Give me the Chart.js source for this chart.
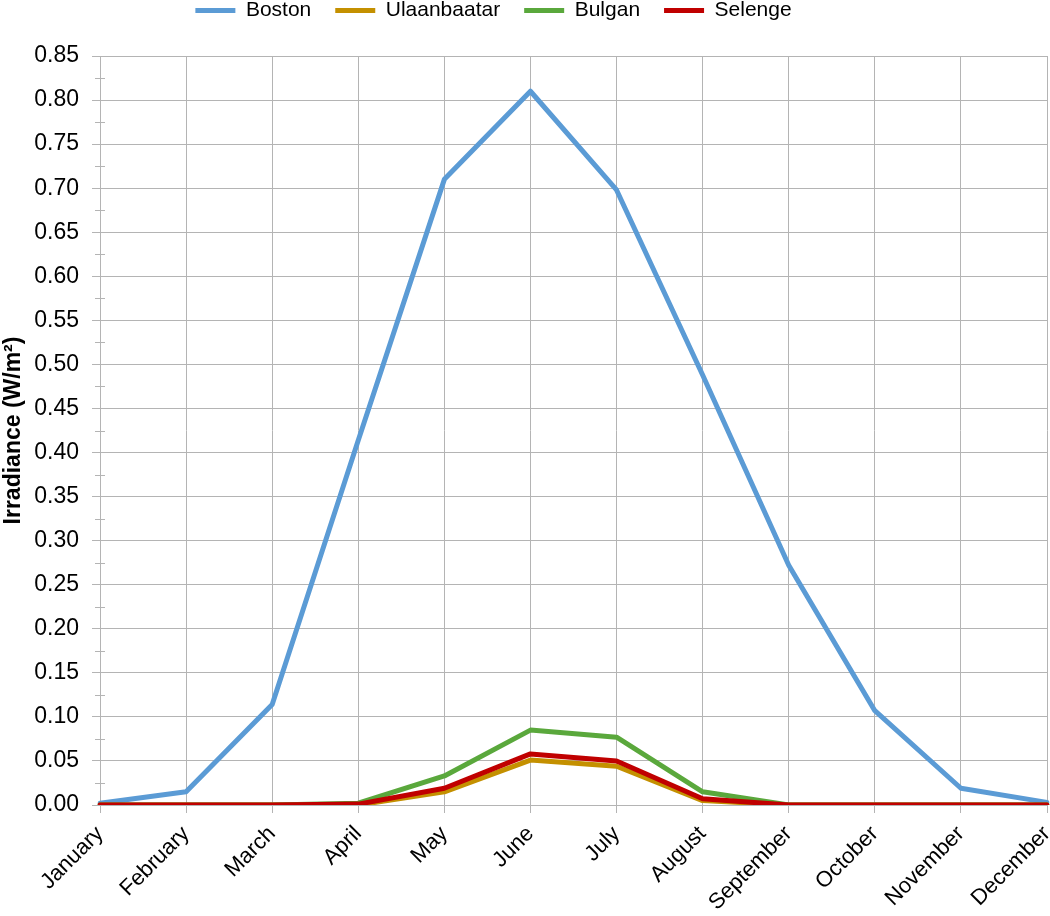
<!DOCTYPE html>
<html>
<head>
<meta charset="utf-8">
<script src="https://cdn.jsdelivr.net/npm/chart.js@4"></script>
<style>
html,body{margin:0;padding:0;background:#fff;}
#wrap{width:1050px;height:916px;}
</style>
</head>
<body>
<div id="wrap"><canvas id="c" width="1050" height="916"></canvas></div>
<script>
const months = ["January","February","March","April","May","June","July","August","September","October","November","December"];
const boston      = [0.002, 0.015, 0.114, 0.414, 0.710, 0.810, 0.698, 0.488, 0.272, 0.107, 0.019, 0.003];
const ulaanbaatar = [0.000, 0.000, 0.000, 0.000, 0.015, 0.051, 0.044, 0.005, 0.000, 0.000, 0.000, 0.000];
const bulgan      = [0.000, 0.000, 0.000, 0.002, 0.033, 0.085, 0.077, 0.015, 0.000, 0.000, 0.000, 0.000];
const selenge     = [0.000, 0.000, 0.000, 0.001, 0.019, 0.058, 0.050, 0.007, 0.000, 0.000, 0.000, 0.000];
const seriesNames = ["Boston","Ulaanbaatar","Bulgan","Selenge"];
const yMin = 0, yMax = 0.85, yStep = 0.05, yMinorStep = 0.025;

const FONT = "'Liberation Sans', Arial, sans-serif";
const GRID = "#b4b4b4";

const minorTicks = {
  id: 'minorTicks',
  afterDraw(chart) {
    const y = chart.scales.y;
    const ctx = chart.ctx;
    ctx.save();
    ctx.strokeStyle = GRID;
    ctx.lineWidth = 1;
    for (let v = yMin + yMinorStep; v < yMax; v += yStep) {
      const py = Math.round(y.getPixelForValue(v)) + 0.5;
      ctx.beginPath();
      ctx.moveTo(y.right - 5, py);
      ctx.lineTo(y.right + 5, py);
      ctx.stroke();
    }
    ctx.restore();
  }
};

const legendTweak = {
  id: 'legendTweak',
  beforeUpdate(chart) {
    const lg = chart.legend;
    if (lg && !lg._tweaked) {
      lg._tweaked = true;
      const of = lg.fit.bind(lg);
      lg.fit = function () { of(); this.height = 56; };
      const od = lg.draw.bind(lg);
      lg.draw = function () {
        this.ctx.save();
        this.ctx.translate(-30, -24);
        od();
        this.ctx.restore();
      };
    }
  }
};

function ds(label, data, color, order) {
  return {label, data, borderColor: color, backgroundColor: color, borderWidth: 5,
          pointRadius: 0, pointHoverRadius: 0, tension: 0, order,
          borderCapStyle: 'round', borderJoinStyle: 'round', fill: false};
}

new Chart(document.getElementById('c'), {
  type: 'line',
  data: {
    labels: months,
    datasets: [
      ds(seriesNames[0], boston, '#5b9bd5', 3),
      ds(seriesNames[1], ulaanbaatar, '#c49000', 2),
      ds(seriesNames[2], bulgan, '#5aa83c', 1),
      ds(seriesNames[3], selenge, '#c00000', 0)
    ]
  },
  options: {
    responsive: false,
    animation: false,
    devicePixelRatio: 1,
    layout: {padding: {left: 0, right: 3, top: 0, bottom: 0}},
    plugins: {
      legend: {
        position: 'top',
        labels: {
          usePointStyle: true,
          pointStyle: 'line',
          pointStyleWidth: 40,
          boxHeight: 21,
          padding: 24,
          color: '#000',
          font: {family: FONT, size: 21},
          sort: (a, b) => a.datasetIndex - b.datasetIndex
        }
      },
      tooltip: {enabled: false}
    },
    scales: {
      x: {
        offset: false,
        grid: {color: GRID, lineWidth: 1, tickLength: 8, drawTicks: true},
        border: {color: GRID},
        ticks: {color: '#000', font: {family: FONT, size: 22}, minRotation: 45, maxRotation: 45, padding: 8, autoSkip: false},
        afterFit(s) { s.height = 111; s.paddingLeft = 0; s.paddingRight = 0; }
      },
      y: {
        min: yMin, max: yMax,
        grid: {color: GRID, lineWidth: 1, tickLength: 8},
        border: {color: GRID},
        ticks: {stepSize: yStep, color: '#000', font: {family: FONT, size: 23}, padding: 13,
                callback: v => Number(v).toFixed(2)},
        title: {display: true, text: 'Irradiance (W/m²)', color: '#000',
                font: {family: FONT, size: 23, weight: 'bold'}, padding: {top: 0, bottom: 0}},
        afterFit(s) { s.width = 100; s.paddingTop = 0; s.paddingBottom = 0; }
      }
    }
  },
  plugins: [minorTicks, legendTweak]
});
</script>
</body>
</html>
